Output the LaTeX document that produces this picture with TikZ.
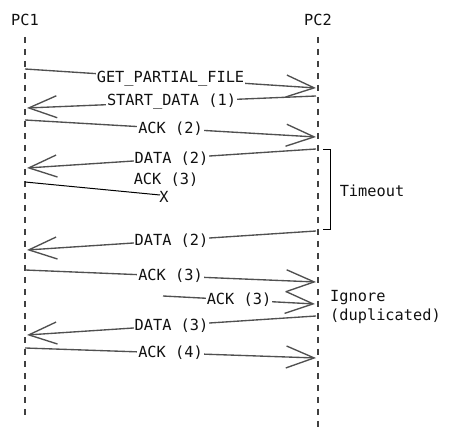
\documentclass[tikz,border=0pt]{standalone}
\usepackage{fontspec}
\setmonofont{DejaVu Sans Mono}
\usetikzlibrary{arrows.meta}
\definecolor{arrowgray}{HTML}{505050}
\definecolor{linegray}{HTML}{404040}
\definecolor{txt}{HTML}{111111}
\begin{document}
\begin{tikzpicture}[x=1pt,y=-1pt,
  font=\ttfamily\fontsize{15.3}{18.5}\selectfont,
  every node/.style={text=txt},
  lifeline/.style={draw=linegray,line width=1.3pt,dash pattern=on 6pt off 6pt},
  msg/.style={draw=arrowgray,line width=1.35pt,-{Straight Barb[length=28pt,width=22pt,line width=1.35pt]}},
  lost/.style={draw=black,line width=1pt},
  lbl/.style={fill=white,inner sep=1pt},
  bracket/.style={draw=black,line width=1pt}
]
\useasboundingbox (0,0) rectangle (451,438);
\node (pc1) at (25,20) {PC1};
\node (pc2) at (318,20) {PC2};
\coordinate (l1top) at (25,37);
\coordinate (l1bot) at (25,420);
\coordinate (l2top) at (318,37);
\coordinate (l2bot) at (318,428);
\draw[lifeline] (l1top) -- (l1bot);
\draw[lifeline] (l2top) -- (l2bot);

\coordinate (a1s) at (25,69);   \coordinate (a1e) at (316,88);
\coordinate (a2s) at (316,96);  \coordinate (a2e) at (27,108);
\coordinate (a3s) at (25,120);  \coordinate (a3e) at (316,137);
\coordinate (a4s) at (316,149); \coordinate (a4e) at (27,168);
\coordinate (a5s) at (25,182);  \coordinate (a5e) at (160,195);
\coordinate (a6s) at (316,231); \coordinate (a6e) at (27,250);
\coordinate (a7s) at (25,270);  \coordinate (a7e) at (316,282);
\coordinate (a8s) at (163,296); \coordinate (a8e) at (315,304);
\coordinate (a9s) at (316,316); \coordinate (a9e) at (27,335);
\coordinate (a10s) at (25,348); \coordinate (a10e) at (316,358);

\draw[msg] (a1s) -- node[lbl] {GET\_PARTIAL\_FILE} (a1e);
\draw[msg] (a2s) -- node[lbl] {START\_DATA (1)} (a2e);
\draw[msg] (a3s) -- node[lbl] {ACK (2)} (a3e);
\draw[msg] (a4s) -- node[lbl] {DATA (2)} (a4e);
\draw[lost] (a5s) -- (a5e);
\node (x) at (164,197) {X};
\node (lostlbl) at (166,180) {ACK (3)};
\draw[msg] (a6s) -- node[lbl] {DATA (2)} (a6e);
\draw[msg] (a7s) -- node[lbl] {ACK (3)} (a7e);
\draw[msg] (a8s) -- node[lbl] {ACK (3)} (a8e);
\draw[msg] (a9s) -- node[lbl] {DATA (3)} (a9e);
\draw[msg] (a10s) -- node[lbl] {ACK (4)} (a10e);

\coordinate (b1) at (323,150);
\coordinate (b2) at (330,150);
\coordinate (b3) at (330,230);
\coordinate (b4) at (323,230);
\draw[bracket] (b1) -- (b2) -- (b3) -- (b4);
\node (timeout) at (372,191) {Timeout};
\node[align=left,anchor=west,inner sep=0pt] (ignore) at (330,307) {Ignore\\(duplicated)};
\end{tikzpicture}
\end{document}
